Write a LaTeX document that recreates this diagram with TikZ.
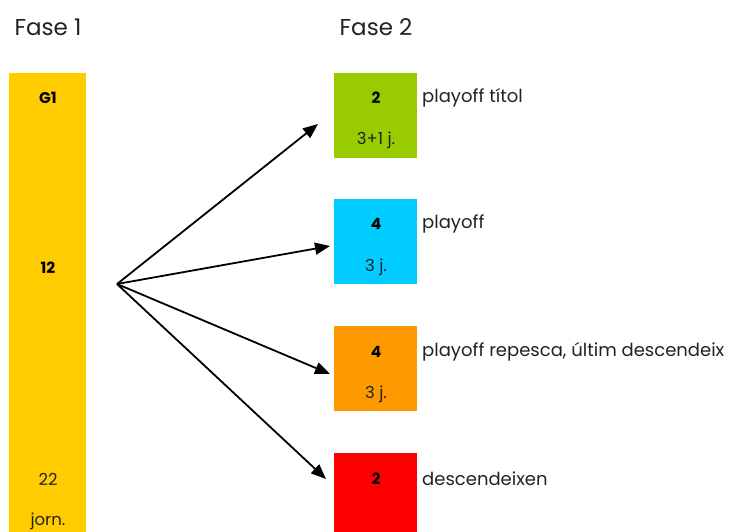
\documentclass[tikz,border=0pt]{standalone}
\usepackage{fontspec}
\setmainfont{Poppins}
\usetikzlibrary{arrows.meta}
\definecolor{cyellow}{HTML}{FFCC00}
\definecolor{cgreen}{HTML}{99CC00}
\definecolor{cblue}{HTML}{00CCFF}
\definecolor{corange}{HTML}{FF9900}
\definecolor{cred}{HTML}{FF0000}
\definecolor{ctext}{HTML}{222222}
\tikzset{
  bar/.style={rectangle, inner sep=0, outer sep=0, minimum width=83pt, minimum height=85pt, anchor=north west},
  numtxt/.style={font=\fontsize{15.5}{15.5}\selectfont\bfseries, text=black, inner sep=0},
  subtxt/.style={font=\fontsize{16.5}{16.5}\selectfont, text=ctext, inner sep=0},
  labtxt/.style={font=\fontsize{18}{18}\selectfont, text=ctext, inner sep=0, anchor=west},
  phase/.style={font=\fontsize{23}{23}\selectfont, text=ctext, inner sep=0},
  arr/.style={line width=1.8pt, -{Triangle[length=15pt,width=12pt]}}
}
\begin{document}
\begin{tikzpicture}[x=1pt,y=-1pt]
\useasboundingbox (0,0) rectangle (749,532);
\node[phase] (f1) at (48,27) {Fase 1};
\node[phase] (f2) at (376,27) {Fase 2};
% fase 1 bar
\node[bar, fill=cyellow, minimum width=77pt, minimum height=459pt] (g1) at (9,73) {};
\node[numtxt] (g1a) at (48,98) {G1};
\node[numtxt] (g1b) at (48,268) {12};
\node[subtxt] (g1c) at (48,479) {22};
\node[subtxt] (g1d) at (48,521) {jorn.};
% fase 2 boxes
\node[bar, fill=cgreen] (b1) at (334,73) {};
\node[numtxt] (b1a) at (376,98) {2};
\node[subtxt] (b1b) at (376,140) {3+1 j.};
\node[labtxt] (l1) at (422,98) {playoff títol};
\node[bar, fill=cblue] (b2) at (334,199) {};
\node[numtxt] (b2a) at (376,224) {4};
\node[subtxt] (b2b) at (376,267) {3 j.};
\node[labtxt] (l2) at (422,224) {playoff};
\node[bar, fill=corange] (b3) at (334,326) {};
\node[numtxt] (b3a) at (376,352) {4};
\node[subtxt] (b3b) at (376,394) {3 j.};
\node[labtxt] (l3) at (422,352) {playoff repesca, últim descendeix};
\node[bar, fill=cred, minimum height=79pt] (b4) at (334,453) {};
\node[numtxt] (b4a) at (376,479) {2};
\node[labtxt] (l4) at (422,479) {descendeixen};
% arrows
\coordinate (o) at (117,284);
\coordinate (e1) at (318,124);
\coordinate (e2) at (330,246);
\coordinate (e3) at (330,374);
\coordinate (e4) at (326,479);
\draw[arr] (o) -- (e1);
\draw[arr] (o) -- (e2);
\draw[arr] (o) -- (e3);
\draw[arr] (o) -- (e4);
\end{tikzpicture}
\end{document}
